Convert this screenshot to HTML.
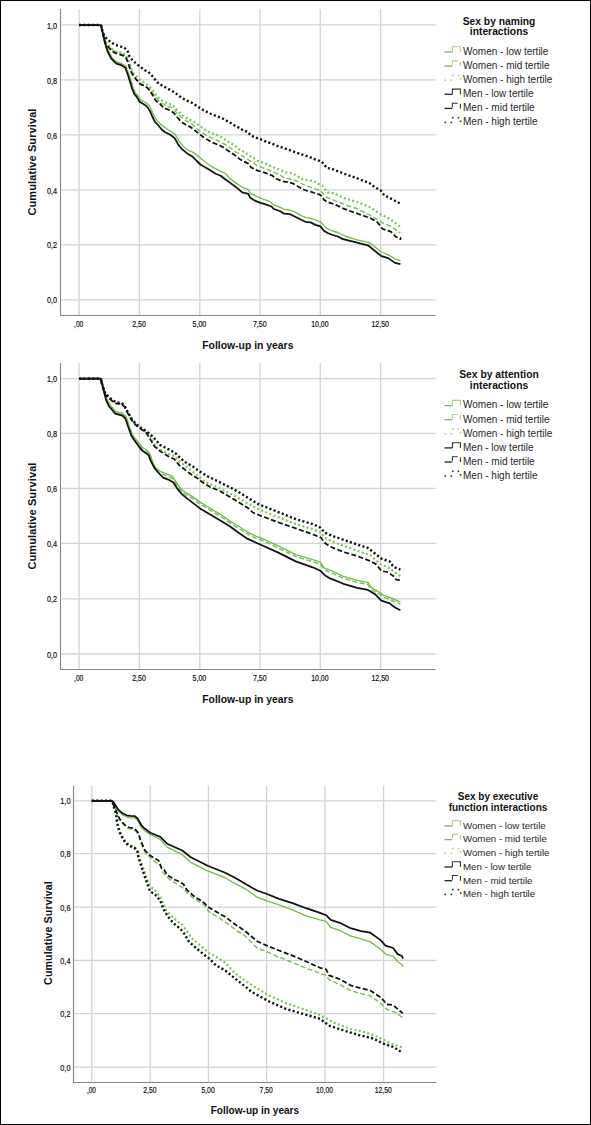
<!DOCTYPE html><html><head><meta charset="utf-8"><title>Survival curves</title><style>
html,body{margin:0;padding:0;background:#fff;}
body{width:591px;height:1125px;overflow:hidden;font-family:"Liberation Sans", sans-serif;}
svg{display:block;}
text{font-family:"Liberation Sans", sans-serif;}
</style></head><body>
<svg width="591" height="1125" viewBox="0 0 591 1125">
<rect x="0" y="0" width="591" height="1125" fill="#fff"/>
<line x1="60.5" y1="24.9" x2="435.5" y2="24.9" stroke="#d3d3d3" stroke-width="1.3"/>
<line x1="60.5" y1="79.9" x2="435.5" y2="79.9" stroke="#d3d3d3" stroke-width="1.3"/>
<line x1="60.5" y1="134.9" x2="435.5" y2="134.9" stroke="#d3d3d3" stroke-width="1.3"/>
<line x1="60.5" y1="189.9" x2="435.5" y2="189.9" stroke="#d3d3d3" stroke-width="1.3"/>
<line x1="60.5" y1="244.8" x2="435.5" y2="244.8" stroke="#d3d3d3" stroke-width="1.3"/>
<line x1="60.5" y1="299.8" x2="435.5" y2="299.8" stroke="#d3d3d3" stroke-width="1.3"/>
<line x1="79.1" y1="9" x2="79.1" y2="315.5" stroke="#d3d3d3" stroke-width="1.3"/>
<line x1="139.4" y1="9" x2="139.4" y2="315.5" stroke="#d3d3d3" stroke-width="1.3"/>
<line x1="199.8" y1="9" x2="199.8" y2="315.5" stroke="#d3d3d3" stroke-width="1.3"/>
<line x1="260.1" y1="9" x2="260.1" y2="315.5" stroke="#d3d3d3" stroke-width="1.3"/>
<line x1="320.3" y1="9" x2="320.3" y2="315.5" stroke="#d3d3d3" stroke-width="1.3"/>
<line x1="380.6" y1="9" x2="380.6" y2="315.5" stroke="#d3d3d3" stroke-width="1.3"/>
<path d="M60.5,9 V315.5 H435.5" fill="none" stroke="#858585" stroke-width="1.1"/>
<text x="47.0" y="28.5" font-size="8.4" fill="#111" stroke="#111" stroke-width="0.2" textLength="10.2" lengthAdjust="spacingAndGlyphs">1,0</text>
<text x="47.0" y="83.5" font-size="8.4" fill="#111" stroke="#111" stroke-width="0.2" textLength="10.2" lengthAdjust="spacingAndGlyphs">0,8</text>
<text x="47.0" y="138.5" font-size="8.4" fill="#111" stroke="#111" stroke-width="0.2" textLength="10.2" lengthAdjust="spacingAndGlyphs">0,6</text>
<text x="47.0" y="193.5" font-size="8.4" fill="#111" stroke="#111" stroke-width="0.2" textLength="10.2" lengthAdjust="spacingAndGlyphs">0,4</text>
<text x="47.0" y="248.4" font-size="8.4" fill="#111" stroke="#111" stroke-width="0.2" textLength="10.2" lengthAdjust="spacingAndGlyphs">0,2</text>
<text x="47.0" y="303.4" font-size="8.4" fill="#111" stroke="#111" stroke-width="0.2" textLength="10.2" lengthAdjust="spacingAndGlyphs">0,0</text>
<text x="74.1" y="326.7" font-size="8.4" fill="#111" stroke="#111" stroke-width="0.2" textLength="9.2" lengthAdjust="spacingAndGlyphs">,00</text>
<text x="132.2" y="326.7" font-size="8.4" fill="#111" stroke="#111" stroke-width="0.2" textLength="13.7" lengthAdjust="spacingAndGlyphs">2,50</text>
<text x="192.6" y="326.7" font-size="8.4" fill="#111" stroke="#111" stroke-width="0.2" textLength="13.7" lengthAdjust="spacingAndGlyphs">5,00</text>
<text x="252.9" y="326.7" font-size="8.4" fill="#111" stroke="#111" stroke-width="0.2" textLength="13.7" lengthAdjust="spacingAndGlyphs">7,50</text>
<text x="311.2" y="326.7" font-size="8.4" fill="#111" stroke="#111" stroke-width="0.2" textLength="17.4" lengthAdjust="spacingAndGlyphs">10,00</text>
<text x="371.4" y="326.7" font-size="8.4" fill="#111" stroke="#111" stroke-width="0.2" textLength="17.6" lengthAdjust="spacingAndGlyphs">12,50</text>
<text x="247.8" y="348.7" font-size="10.40" font-weight="bold" text-anchor="middle" fill="#111">Follow-up in years</text>
<text transform="translate(36.2,162.0) rotate(-90)" x="0" y="0" font-size="11.00" font-weight="bold" text-anchor="middle" fill="#111" letter-spacing="0.1">Cumulative Survival</text>
<polyline points="79.0,25.0 101.0,25.0 102.0,30.0 105.5,42.0 107.5,49.0 111.5,57.0 116.5,62.0 121.5,63.5 126.0,66.0 127.1,70.0 129.1,75.0 131.2,81.5 133.2,88.0 135.6,93.0 138.0,96.0 140.3,99.8 145.7,102.5 149.1,105.2 150.5,108.0 153.4,114.5 156.8,120.4 161.0,124.6 166.9,128.8 172.0,132.2 175.0,134.1 179.1,141.2 183.1,146.2 188.2,150.3 193.3,152.3 198.4,156.4 203.4,160.5 208.5,164.5 213.6,167.6 219.7,170.6 225.8,173.7 230.0,178.6 236.1,183.1 242.2,187.2 248.3,189.7 250.3,193.3 256.4,196.3 262.5,198.9 270.6,201.9 272.6,204.4 281.8,208.0 284.8,209.5 290.1,210.2 295.2,212.2 300.2,215.2 305.3,217.3 310.4,218.3 315.5,219.8 320.5,221.8 323.6,225.4 327.6,228.9 332.7,231.0 337.8,232.5 342.9,235.0 345.0,236.0 357.1,239.9 369.3,242.6 381.4,252.0 388.2,254.8 395.0,258.8 400.4,260.8" fill="none" stroke="#74bd4e" stroke-width="1.35" stroke-linejoin="round"/>
<polyline points="79.0,25.0 101.0,25.0 103.0,34.0 105.0,42.0 110.0,48.0 115.0,52.0 121.0,53.5 125.5,55.5 128.5,62.0 133.5,76.5 139.0,81.9 143.7,85.3 148.4,88.7 152.5,92.8 155.9,97.5 159.3,101.6 162.0,103.3 166.9,106.4 172.8,108.1 177.1,113.2 181.3,117.4 186.4,120.8 192.3,124.2 195.0,127.1 200.1,131.3 207.7,136.4 216.2,139.8 220.0,141.9 225.4,144.6 231.5,148.7 236.9,152.7 242.3,156.1 247.1,158.8 251.8,162.2 256.9,165.3 265.4,168.7 273.8,172.1 280.6,175.5 285.0,178.2 290.1,179.0 295.2,180.3 300.2,182.8 305.3,185.4 310.4,187.1 316.3,189.2 320.5,190.5 323.1,193.8 326.5,197.2 330.7,198.9 335.0,200.6 345.0,204.8 357.1,208.7 370.6,215.5 381.4,222.3 390.9,226.3 400.4,233.1" fill="none" stroke="#74bd4e" stroke-width="1.35" stroke-dasharray="5 2.4" stroke-linejoin="round"/>
<polyline points="79.0,25.0 101.0,25.0 103.0,33.0 105.2,41.3 110.2,47.4 115.3,51.5 121.4,52.5 125.5,54.5 128.5,60.6 133.5,73.5 139.0,78.9 143.7,82.3 148.4,85.7 152.5,89.8 155.9,94.5 159.3,98.6 162.0,100.3 166.9,103.4 172.8,105.1 177.1,110.2 181.3,114.4 186.4,117.8 192.3,121.2 195.8,122.8 199.2,125.4 203.5,128.8 207.7,131.3 211.9,133.4 216.2,134.7 220.0,136.5 223.4,138.5 226.8,140.9 230.8,143.3 234.6,145.3 237.9,148.4 241.7,150.7 245.7,152.7 249.1,155.5 253.2,157.8 256.9,160.5 265.4,163.6 273.8,167.4 282.3,170.8 286.7,172.7 291.8,173.1 296.0,175.2 300.2,177.8 303.6,179.9 309.5,180.3 314.6,181.6 318.0,183.7 322.2,185.4 324.8,189.2 328.1,192.6 333.2,193.0 343.5,197.9 357.1,202.0 370.6,207.4 380.1,214.1 390.9,219.6 400.4,227.0" fill="none" stroke="#7fc65c" stroke-width="2.2" stroke-dasharray="2.1 2.3" stroke-linejoin="round"/>
<polyline points="79.0,25.0 101.0,25.0 102.0,30.0 105.2,43.4 107.2,50.5 111.2,58.6 116.3,63.7 121.4,65.2 125.5,67.7 126.1,70.0 128.1,75.4 130.2,82.2 132.2,89.0 134.2,93.7 136.9,97.1 139.6,101.8 143.0,103.8 146.4,105.9 148.4,108.6 150.0,111.1 152.5,117.0 155.1,122.1 158.5,125.5 161.8,129.7 165.2,132.2 170.3,134.8 173.7,137.3 175.0,138.6 178.0,144.2 182.1,149.3 187.2,153.4 192.3,156.4 196.3,160.5 200.4,164.5 205.5,167.6 210.5,170.6 215.6,173.7 220.7,175.7 225.8,179.7 230.0,182.6 236.1,187.2 242.2,192.3 248.3,193.8 250.3,197.8 255.4,200.9 260.5,202.9 265.5,204.4 271.6,206.5 273.7,209.0 279.7,211.0 283.8,213.6 290.1,214.2 295.2,216.8 300.2,219.3 305.3,221.8 310.4,222.3 315.5,224.9 320.5,226.4 323.6,230.5 327.6,233.0 332.7,235.0 337.8,236.5 342.9,239.1 345.0,239.6 357.1,242.6 367.9,245.3 381.4,256.1 388.2,258.1 395.0,262.9 400.4,264.2" fill="none" stroke="#111" stroke-width="1.75" stroke-linejoin="round"/>
<polyline points="79.0,25.0 101.0,25.0 103.0,34.0 105.0,43.0 110.0,49.0 115.0,53.0 121.0,55.0 125.5,56.5 128.5,63.7 130.2,70.0 133.5,76.1 136.9,80.2 140.3,84.2 143.7,85.6 147.1,87.6 149.8,90.3 152.5,95.0 155.2,99.8 157.9,102.5 160.0,103.8 163.5,107.7 169.5,110.2 173.7,112.8 177.1,117.0 180.5,121.2 185.5,124.6 190.6,127.1 195.0,130.5 199.2,133.8 203.5,137.2 207.7,139.8 211.9,142.3 216.2,144.0 220.4,145.7 224.1,148.0 228.1,150.7 232.2,153.4 236.2,156.1 240.3,159.5 243.7,161.5 248.4,163.6 251.0,167.4 256.9,170.4 265.4,172.9 272.1,175.5 276.4,178.8 282.3,181.4 289.2,182.4 293.5,183.7 297.7,186.2 304.5,190.0 310.4,191.7 314.6,193.0 319.7,194.7 322.2,196.4 323.9,199.8 327.3,201.9 330.7,203.1 335.0,204.4 343.5,208.7 357.1,213.5 370.6,218.2 377.4,222.3 382.8,229.0 390.9,231.7 396.3,237.2 400.4,237.8 400.4,239.9" fill="none" stroke="#111" stroke-width="1.75" stroke-dasharray="5 2.4" stroke-linejoin="round"/>
<polyline points="79.0,25.0 101.0,25.0 102.1,30.2 104.6,36.2 107.2,39.3 111.2,42.3 115.3,44.9 120.4,46.4 124.4,47.9 127.5,50.5 129.5,56.5 132.6,60.6 137.6,64.7 144.4,70.0 148.4,72.0 151.8,75.4 154.5,78.8 157.2,82.2 162.0,85.5 168.0,88.8 174.0,92.0 179.6,96.3 185.5,100.1 192.3,103.0 195.0,104.7 199.2,107.6 203.5,110.2 206.8,111.8 211.1,114.0 215.3,115.7 219.5,117.3 223.8,119.0 228.0,121.6 232.2,123.7 234.9,125.7 239.6,128.0 243.0,130.4 247.7,131.8 250.5,135.2 254.5,137.2 259.3,138.9 278.8,146.4 295.8,152.3 312.7,158.2 316.3,160.0 321.4,161.3 323.9,164.2 326.9,168.0 331.5,168.5 335.0,170.2 343.5,173.5 357.1,178.3 369.3,183.0 374.7,187.1 380.8,190.5 384.1,195.2 392.3,199.3 401.1,204.0" fill="none" stroke="#111" stroke-width="2.4" stroke-dasharray="2.1 2.3" stroke-linejoin="round"/>
<text x="499" y="24.5" font-size="10.30" font-weight="bold" text-anchor="middle" fill="#111">Sex by naming</text>
<text x="499" y="35.2" font-size="10.30" font-weight="bold" text-anchor="middle" fill="#111">interactions</text>
<path d="M444.5,52.0 H452.4" fill="none" stroke="#7fb062" stroke-width="1.3"/>
<path d="M452.4,52.0 V46.8 H460.4 V52.0" fill="none" stroke="#a7cf94" stroke-width="1.1"/>
<text x="463" y="54.8" font-size="10.00" fill="#262626">Women - low tertile</text>
<path d="M444.5,66.10000000000001 H452.2" fill="none" stroke="#7fb062" stroke-width="1.3"/>
<path d="M452.4,65.10000000000001 V60.900000000000006 H457.8 M460.4,61.50000000000001 V66.10000000000001" fill="none" stroke="#a7cf94" stroke-width="1.1"/>
<text x="463" y="68.9" font-size="10.00" fill="#262626">Women - mid tertile</text>
<rect x="444.5" y="79.4" width="1.6" height="1.6" fill="#a7cf94"/>
<rect x="450.6" y="79.4" width="1.6" height="1.6" fill="#a7cf94"/>
<rect x="452.0" y="74.6" width="1.6" height="1.6" fill="#a7cf94"/>
<rect x="457.6" y="74.6" width="1.6" height="1.6" fill="#a7cf94"/>
<rect x="459.8" y="78.2" width="1.6" height="1.6" fill="#a7cf94"/>
<text x="463" y="83.0" font-size="10.00" fill="#262626">Women - high tertile</text>
<path d="M444.5,94.3 H452.4" fill="none" stroke="#222" stroke-width="1.3"/>
<path d="M452.4,94.3 V89.1 H460.4 V94.3" fill="none" stroke="#333" stroke-width="1.1"/>
<text x="463" y="97.1" font-size="10.00" fill="#262626">Men - low tertile</text>
<path d="M444.5,108.4 H452.2" fill="none" stroke="#222" stroke-width="1.3"/>
<path d="M452.4,107.4 V103.2 H457.8 M460.4,103.8 V108.4" fill="none" stroke="#333" stroke-width="1.1"/>
<text x="463" y="111.2" font-size="10.00" fill="#262626">Men - mid tertile</text>
<rect x="444.5" y="121.7" width="1.6" height="1.6" fill="#333"/>
<rect x="450.6" y="121.7" width="1.6" height="1.6" fill="#333"/>
<rect x="452.0" y="116.9" width="1.6" height="1.6" fill="#333"/>
<rect x="457.6" y="116.9" width="1.6" height="1.6" fill="#333"/>
<rect x="459.8" y="120.5" width="1.6" height="1.6" fill="#333"/>
<text x="463" y="125.3" font-size="10.00" fill="#262626">Men - high tertile</text>
<line x1="60.5" y1="378.7" x2="435.5" y2="378.7" stroke="#d3d3d3" stroke-width="1.3"/>
<line x1="60.5" y1="433.4" x2="435.5" y2="433.4" stroke="#d3d3d3" stroke-width="1.3"/>
<line x1="60.5" y1="488.4" x2="435.5" y2="488.4" stroke="#d3d3d3" stroke-width="1.3"/>
<line x1="60.5" y1="543.4" x2="435.5" y2="543.4" stroke="#d3d3d3" stroke-width="1.3"/>
<line x1="60.5" y1="598.8" x2="435.5" y2="598.8" stroke="#d3d3d3" stroke-width="1.3"/>
<line x1="60.5" y1="654.0" x2="435.5" y2="654.0" stroke="#d3d3d3" stroke-width="1.3"/>
<line x1="79.1" y1="363" x2="79.1" y2="669.5" stroke="#d3d3d3" stroke-width="1.3"/>
<line x1="139.4" y1="363" x2="139.4" y2="669.5" stroke="#d3d3d3" stroke-width="1.3"/>
<line x1="199.8" y1="363" x2="199.8" y2="669.5" stroke="#d3d3d3" stroke-width="1.3"/>
<line x1="260.1" y1="363" x2="260.1" y2="669.5" stroke="#d3d3d3" stroke-width="1.3"/>
<line x1="320.3" y1="363" x2="320.3" y2="669.5" stroke="#d3d3d3" stroke-width="1.3"/>
<line x1="380.6" y1="363" x2="380.6" y2="669.5" stroke="#d3d3d3" stroke-width="1.3"/>
<path d="M60.5,363 V669.5 H435.5" fill="none" stroke="#858585" stroke-width="1.1"/>
<text x="47.0" y="382.3" font-size="8.4" fill="#111" stroke="#111" stroke-width="0.2" textLength="10.2" lengthAdjust="spacingAndGlyphs">1,0</text>
<text x="47.0" y="437.0" font-size="8.4" fill="#111" stroke="#111" stroke-width="0.2" textLength="10.2" lengthAdjust="spacingAndGlyphs">0,8</text>
<text x="47.0" y="492.0" font-size="8.4" fill="#111" stroke="#111" stroke-width="0.2" textLength="10.2" lengthAdjust="spacingAndGlyphs">0,6</text>
<text x="47.0" y="547.0" font-size="8.4" fill="#111" stroke="#111" stroke-width="0.2" textLength="10.2" lengthAdjust="spacingAndGlyphs">0,4</text>
<text x="47.0" y="602.4" font-size="8.4" fill="#111" stroke="#111" stroke-width="0.2" textLength="10.2" lengthAdjust="spacingAndGlyphs">0,2</text>
<text x="47.0" y="657.6" font-size="8.4" fill="#111" stroke="#111" stroke-width="0.2" textLength="10.2" lengthAdjust="spacingAndGlyphs">0,0</text>
<text x="74.1" y="680.7" font-size="8.4" fill="#111" stroke="#111" stroke-width="0.2" textLength="9.2" lengthAdjust="spacingAndGlyphs">,00</text>
<text x="132.2" y="680.7" font-size="8.4" fill="#111" stroke="#111" stroke-width="0.2" textLength="13.7" lengthAdjust="spacingAndGlyphs">2,50</text>
<text x="192.6" y="680.7" font-size="8.4" fill="#111" stroke="#111" stroke-width="0.2" textLength="13.7" lengthAdjust="spacingAndGlyphs">5,00</text>
<text x="252.9" y="680.7" font-size="8.4" fill="#111" stroke="#111" stroke-width="0.2" textLength="13.7" lengthAdjust="spacingAndGlyphs">7,50</text>
<text x="311.2" y="680.7" font-size="8.4" fill="#111" stroke="#111" stroke-width="0.2" textLength="17.4" lengthAdjust="spacingAndGlyphs">10,00</text>
<text x="371.4" y="680.7" font-size="8.4" fill="#111" stroke="#111" stroke-width="0.2" textLength="17.6" lengthAdjust="spacingAndGlyphs">12,50</text>
<text x="247.8" y="702.7" font-size="10.40" font-weight="bold" text-anchor="middle" fill="#111">Follow-up in years</text>
<text transform="translate(36.2,516.0) rotate(-90)" x="0" y="0" font-size="11.00" font-weight="bold" text-anchor="middle" fill="#111" letter-spacing="0.1">Cumulative Survival</text>
<polyline points="79.0,378.7 101.0,378.7 102.0,383.0 104.5,391.0 106.7,398.5 109.7,404.5 115.8,411.5 122.9,413.5 126.0,416.5 129.0,425.5 132.0,433.5 136.0,439.5 142.0,447.0 148.0,451.0 150.0,454.0 153.0,463.0 156.1,468.2 160.2,471.3 165.2,473.3 172.3,476.3 176.4,482.4 180.5,488.5 185.5,492.6 192.6,496.6 200.0,502.1 210.2,508.2 220.3,514.3 230.5,521.4 240.6,527.5 248.7,532.6 256.9,536.6 260.2,537.6 278.8,546.1 295.8,554.6 312.7,559.7 320.3,562.2 324.5,568.1 330.0,570.2 343.5,576.3 357.1,580.4 367.9,582.4 370.6,587.2 377.4,591.2 384.1,595.3 390.9,598.0 400.4,602.0" fill="none" stroke="#74bd4e" stroke-width="1.35" stroke-linejoin="round"/>
<polyline points="79.0,378.7 101.0,378.7 102.0,385.0 104.5,393.0 106.7,400.5 109.7,406.5 115.8,413.5 122.9,415.5 126.0,418.5 129.0,427.5 132.0,435.5 136.0,441.5 142.0,449.0 148.0,453.0 150.0,456.0 153.0,465.0 156.1,470.2 160.2,473.3 165.2,475.3 172.3,478.3 176.4,484.4 180.5,490.5 185.5,494.6 192.6,498.6 200.0,504.1 210.2,510.2 220.3,516.3 230.5,523.4 240.6,529.5 248.7,534.6 256.9,538.6 260.2,539.6 278.8,548.1 295.8,556.6 312.7,561.7 320.3,564.2 324.5,570.1 330.0,572.2 343.5,578.3 357.1,582.4 367.9,584.4 370.6,589.2 377.4,593.2 384.1,597.3 390.9,600.0 400.4,604.0" fill="none" stroke="#74bd4e" stroke-width="1.35" stroke-dasharray="5 2.4" stroke-linejoin="round"/>
<polyline points="79.0,378.7 101.0,378.7 101.4,381.7 103.4,387.8 105.5,393.9 108.5,396.9 112.6,400.5 116.6,403.0 121.7,403.5 124.7,406.1 127.8,412.1 131.8,419.3 135.9,424.3 141.0,428.4 146.1,431.4 150.0,436.0 156.1,447.1 165.2,452.2 174.4,456.2 180.5,462.3 188.6,468.4 197.7,475.5 205.1,482.0 215.2,486.1 225.4,491.2 235.5,496.2 245.7,502.3 258.9,509.4 278.8,517.4 295.8,524.1 312.7,529.2 321.1,532.6 324.5,537.7 331.4,541.1 343.5,545.9 357.1,550.6 370.6,555.3 380.1,564.1 389.6,568.2 400.4,576.3" fill="none" stroke="#7fc65c" stroke-width="2.2" stroke-dasharray="2.1 2.3" stroke-linejoin="round"/>
<polyline points="79.0,378.7 101.0,378.7 102.0,383.0 104.1,392.3 106.2,400.4 109.2,406.5 115.3,413.6 122.4,415.6 125.5,418.7 128.5,427.8 131.5,435.9 135.6,442.0 141.7,450.1 148.8,455.2 150.0,459.3 154.1,467.4 158.1,472.5 163.2,477.6 168.3,479.6 173.4,482.6 177.4,488.7 181.5,493.8 187.6,498.9 200.0,508.4 210.2,514.5 220.3,520.6 230.5,526.7 238.6,532.8 247.7,538.9 260.2,544.5 278.8,552.9 295.8,561.4 312.7,567.3 320.3,570.7 324.5,574.9 330.0,578.4 343.5,583.8 357.1,587.8 367.9,589.9 374.7,593.9 381.4,600.7 389.6,603.4 395.0,607.5 400.4,610.2" fill="none" stroke="#111" stroke-width="1.75" stroke-linejoin="round"/>
<polyline points="79.0,378.7 101.0,378.7 101.1,382.3 103.1,388.4 105.2,394.5 108.2,397.5 112.3,401.1 116.3,403.6 121.4,404.1 124.4,406.7 127.5,412.7 131.5,419.9 135.6,424.9 140.7,429.0 145.8,432.0 150.0,438.6 154.1,446.1 160.2,451.2 168.3,456.2 174.4,459.3 179.4,465.4 188.6,472.5 197.7,478.6 202.0,482.0 210.2,487.1 220.3,491.2 230.5,497.3 240.6,503.4 248.7,508.4 252.8,512.5 260.2,515.5 278.8,522.5 295.8,528.4 312.7,534.3 321.1,537.7 324.5,542.8 330.0,546.5 343.5,552.0 357.1,556.0 367.9,560.1 376.0,564.1 381.4,570.9 388.2,572.3 393.6,576.3 396.3,579.7 400.4,580.4 400.4,582.0" fill="none" stroke="#111" stroke-width="1.75" stroke-dasharray="5 2.4" stroke-linejoin="round"/>
<polyline points="79.0,378.7 101.0,378.7 101.1,381.1 103.1,387.2 105.2,393.3 108.2,396.3 112.3,399.9 116.3,402.4 121.4,402.9 124.4,405.5 127.5,411.5 131.5,418.7 135.6,423.7 140.7,427.8 145.8,430.8 151.9,435.9 155.0,439.0 160.2,445.1 168.3,449.1 175.4,453.2 180.5,458.3 185.5,462.3 192.6,466.4 199.7,471.5 207.9,476.5 215.2,480.0 225.4,485.1 233.5,489.1 240.6,493.2 248.7,498.3 258.9,504.4 278.8,512.3 295.8,519.1 312.7,524.1 320.3,527.5 324.5,532.6 334.7,536.8 343.5,539.8 357.1,544.5 367.9,547.9 374.7,553.3 381.4,558.7 389.6,561.4 393.6,566.9 400.4,569.6" fill="none" stroke="#111" stroke-width="2.4" stroke-dasharray="2.1 2.3" stroke-linejoin="round"/>
<text x="499" y="377.8" font-size="10.30" font-weight="bold" text-anchor="middle" fill="#111">Sex by attention</text>
<text x="499" y="388.6" font-size="10.30" font-weight="bold" text-anchor="middle" fill="#111">interactions</text>
<path d="M444.5,405.59999999999997 H452.4" fill="none" stroke="#7fb062" stroke-width="1.3"/>
<path d="M452.4,405.59999999999997 V400.4 H460.4 V405.59999999999997" fill="none" stroke="#a7cf94" stroke-width="1.1"/>
<text x="463" y="408.4" font-size="10.00" fill="#262626">Women - low tertile</text>
<path d="M444.5,419.7 H452.2" fill="none" stroke="#7fb062" stroke-width="1.3"/>
<path d="M452.4,418.7 V414.5 H457.8 M460.4,415.1 V419.7" fill="none" stroke="#a7cf94" stroke-width="1.1"/>
<text x="463" y="422.5" font-size="10.00" fill="#262626">Women - mid tertile</text>
<rect x="444.5" y="433.0" width="1.6" height="1.6" fill="#a7cf94"/>
<rect x="450.6" y="433.0" width="1.6" height="1.6" fill="#a7cf94"/>
<rect x="452.0" y="428.2" width="1.6" height="1.6" fill="#a7cf94"/>
<rect x="457.6" y="428.2" width="1.6" height="1.6" fill="#a7cf94"/>
<rect x="459.8" y="431.8" width="1.6" height="1.6" fill="#a7cf94"/>
<text x="463" y="436.6" font-size="10.00" fill="#262626">Women - high tertile</text>
<path d="M444.5,447.9 H452.4" fill="none" stroke="#222" stroke-width="1.3"/>
<path d="M452.4,447.9 V442.7 H460.4 V447.9" fill="none" stroke="#333" stroke-width="1.1"/>
<text x="463" y="450.7" font-size="10.00" fill="#262626">Men - low tertile</text>
<path d="M444.5,462.0 H452.2" fill="none" stroke="#222" stroke-width="1.3"/>
<path d="M452.4,461.0 V456.8 H457.8 M460.4,457.40000000000003 V462.0" fill="none" stroke="#333" stroke-width="1.1"/>
<text x="463" y="464.8" font-size="10.00" fill="#262626">Men - mid tertile</text>
<rect x="444.5" y="475.3" width="1.6" height="1.6" fill="#333"/>
<rect x="450.6" y="475.3" width="1.6" height="1.6" fill="#333"/>
<rect x="452.0" y="470.5" width="1.6" height="1.6" fill="#333"/>
<rect x="457.6" y="470.5" width="1.6" height="1.6" fill="#333"/>
<rect x="459.8" y="474.1" width="1.6" height="1.6" fill="#333"/>
<text x="463" y="478.9" font-size="10.00" fill="#262626">Men - high tertile</text>
<line x1="73.5" y1="800.8" x2="436.5" y2="800.8" stroke="#d3d3d3" stroke-width="1.3"/>
<line x1="73.5" y1="853.6" x2="436.5" y2="853.6" stroke="#d3d3d3" stroke-width="1.3"/>
<line x1="73.5" y1="907.1" x2="436.5" y2="907.1" stroke="#d3d3d3" stroke-width="1.3"/>
<line x1="73.5" y1="960.4" x2="436.5" y2="960.4" stroke="#d3d3d3" stroke-width="1.3"/>
<line x1="73.5" y1="1013.6" x2="436.5" y2="1013.6" stroke="#d3d3d3" stroke-width="1.3"/>
<line x1="73.5" y1="1067.2" x2="436.5" y2="1067.2" stroke="#d3d3d3" stroke-width="1.3"/>
<line x1="91.8" y1="785.6" x2="91.8" y2="1082.5" stroke="#d3d3d3" stroke-width="1.3"/>
<line x1="150.2" y1="785.6" x2="150.2" y2="1082.5" stroke="#d3d3d3" stroke-width="1.3"/>
<line x1="208.4" y1="785.6" x2="208.4" y2="1082.5" stroke="#d3d3d3" stroke-width="1.3"/>
<line x1="266.6" y1="785.6" x2="266.6" y2="1082.5" stroke="#d3d3d3" stroke-width="1.3"/>
<line x1="324.9" y1="785.6" x2="324.9" y2="1082.5" stroke="#d3d3d3" stroke-width="1.3"/>
<line x1="383.6" y1="785.6" x2="383.6" y2="1082.5" stroke="#d3d3d3" stroke-width="1.3"/>
<path d="M73.5,785.6 V1082.5 H436.5" fill="none" stroke="#858585" stroke-width="1.1"/>
<text x="60.3" y="804.4" font-size="8.4" fill="#111" stroke="#111" stroke-width="0.2" textLength="10.2" lengthAdjust="spacingAndGlyphs">1,0</text>
<text x="60.3" y="857.2" font-size="8.4" fill="#111" stroke="#111" stroke-width="0.2" textLength="10.2" lengthAdjust="spacingAndGlyphs">0,8</text>
<text x="60.3" y="910.7" font-size="8.4" fill="#111" stroke="#111" stroke-width="0.2" textLength="10.2" lengthAdjust="spacingAndGlyphs">0,6</text>
<text x="60.3" y="964.0" font-size="8.4" fill="#111" stroke="#111" stroke-width="0.2" textLength="10.2" lengthAdjust="spacingAndGlyphs">0,4</text>
<text x="60.3" y="1017.2" font-size="8.4" fill="#111" stroke="#111" stroke-width="0.2" textLength="10.2" lengthAdjust="spacingAndGlyphs">0,2</text>
<text x="60.3" y="1070.8" font-size="8.4" fill="#111" stroke="#111" stroke-width="0.2" textLength="10.2" lengthAdjust="spacingAndGlyphs">0,0</text>
<text x="86.9" y="1093.0" font-size="8.4" fill="#111" stroke="#111" stroke-width="0.2" textLength="8.9" lengthAdjust="spacingAndGlyphs">,00</text>
<text x="143.2" y="1093.0" font-size="8.4" fill="#111" stroke="#111" stroke-width="0.2" textLength="13.3" lengthAdjust="spacingAndGlyphs">2,50</text>
<text x="201.4" y="1093.0" font-size="8.4" fill="#111" stroke="#111" stroke-width="0.2" textLength="13.3" lengthAdjust="spacingAndGlyphs">5,00</text>
<text x="259.6" y="1093.0" font-size="8.4" fill="#111" stroke="#111" stroke-width="0.2" textLength="13.3" lengthAdjust="spacingAndGlyphs">7,50</text>
<text x="316.1" y="1093.0" font-size="8.4" fill="#111" stroke="#111" stroke-width="0.2" textLength="16.9" lengthAdjust="spacingAndGlyphs">10,00</text>
<text x="374.7" y="1093.0" font-size="8.4" fill="#111" stroke="#111" stroke-width="0.2" textLength="17.1" lengthAdjust="spacingAndGlyphs">12,50</text>
<text x="254.9" y="1114.0" font-size="10.09" font-weight="bold" text-anchor="middle" fill="#111">Follow-up in years</text>
<text transform="translate(52.3,933.0) rotate(-90)" x="0" y="0" font-size="10.67" font-weight="bold" text-anchor="middle" fill="#111" letter-spacing="0.1">Cumulative Survival</text>
<polyline points="91.8,800.8 112.1,800.8 113.8,803.2 115.8,807.0 118.5,811.3 122.6,814.8 126.7,817.0 130.5,817.6 134.8,818.0 137.5,820.2 139.0,823.0 141.5,827.5 145.0,831.0 150.2,834.4 160.3,839.5 167.1,847.1 182.3,854.7 190.8,862.3 207.7,870.8 224.6,877.5 235.0,883.7 245.2,888.8 257.0,897.2 266.3,900.6 279.0,904.8 292.5,909.9 306.1,915.8 320.0,919.8 326.1,921.3 330.7,927.4 339.8,930.5 350.5,935.8 361.1,938.8 370.3,941.9 380.9,949.5 385.5,954.1 393.1,956.3 397.7,961.7 402.2,964.7 403.0,967.0" fill="none" stroke="#74bd4e" stroke-width="1.35" stroke-linejoin="round"/>
<polyline points="91.8,800.8 112.1,800.8 113.5,804.5 115.6,809.5 117.6,815.2 120.3,820.6 123.0,824.0 126.4,827.5 129.8,829.0 133.8,829.8 136.5,831.8 138.6,834.8 140.8,843.0 145.3,853.0 150.2,857.6 160.3,865.7 163.2,873.0 170.3,880.2 177.4,884.2 183.5,888.3 187.6,893.4 192.6,897.4 198.7,901.5 204.8,905.5 208.9,911.6 224.6,921.5 235.0,929.4 245.2,936.1 257.0,948.0 266.3,951.4 279.0,957.3 292.5,962.4 306.1,968.3 320.0,973.1 326.1,975.4 329.1,979.9 339.8,984.5 350.5,990.6 361.1,993.6 370.3,995.9 380.9,1003.5 387.0,1009.6 396.1,1012.7 403.0,1018.0" fill="none" stroke="#74bd4e" stroke-width="1.35" stroke-dasharray="5 2.4" stroke-linejoin="round"/>
<polyline points="91.8,800.8 112.1,800.8 114.5,807.0 116.6,815.0 117.6,823.0 119.6,831.0 122.7,837.0 125.7,842.0 129.8,845.0 134.8,847.0 138.0,851.0 139.0,857.0 141.0,861.0 145.5,875.0 150.0,886.2 156.1,891.3 161.2,898.4 165.2,908.6 170.3,914.7 176.4,920.8 182.5,924.8 186.5,930.9 192.6,939.0 198.7,944.1 204.8,949.2 208.9,953.2 211.1,953.7 224.6,962.1 235.0,973.4 251.9,985.2 268.8,995.4 285.8,1003.0 302.7,1008.9 320.0,1015.0 335.2,1023.3 350.5,1028.7 365.7,1032.5 377.9,1037.0 385.5,1040.9 394.6,1044.7 403.0,1047.7" fill="none" stroke="#7fc65c" stroke-width="2.2" stroke-dasharray="2.1 2.3" stroke-linejoin="round"/>
<polyline points="91.8,800.8 112.1,800.8 113.8,802.4 115.8,805.8 118.5,809.9 122.6,813.3 126.7,815.3 130.5,815.8 134.8,816.2 137.5,818.2 139.0,821.0 141.5,825.5 145.0,828.8 150.2,832.7 160.3,836.9 167.1,843.7 182.3,850.5 190.8,857.2 207.7,865.7 224.6,872.5 235.0,877.8 245.2,883.7 257.0,890.5 266.3,893.8 279.0,898.9 292.5,903.1 306.1,908.2 320.0,912.9 326.1,915.2 330.7,919.8 339.8,922.8 350.5,928.2 361.1,931.2 370.3,932.7 380.9,940.4 385.5,945.7 393.1,948.0 397.7,954.1 402.2,956.3 403.0,958.6" fill="none" stroke="#111" stroke-width="1.75" stroke-linejoin="round"/>
<polyline points="91.8,800.8 112.1,800.8 113.1,803.8 115.2,808.5 117.2,814.0 119.9,819.4 122.6,822.7 126.0,826.1 129.4,827.5 133.4,828.2 136.1,830.2 138.2,832.9 139.0,835.0 140.5,840.3 145.1,850.5 150.2,855.5 158.6,860.6 162.0,869.1 164.2,870.0 167.3,875.1 173.4,879.1 178.4,881.2 183.5,884.2 186.5,889.3 190.6,893.4 195.7,897.4 200.8,900.5 204.8,903.5 208.9,907.6 224.6,916.4 235.0,924.3 245.2,931.1 257.0,941.2 266.3,945.4 279.0,950.5 292.5,955.6 306.1,961.5 320.0,967.8 326.1,969.3 329.1,975.4 339.8,979.2 350.5,985.3 361.1,988.3 370.3,990.6 380.9,997.5 387.0,1004.3 393.1,1005.1 399.2,1010.4 403.0,1013.4" fill="none" stroke="#111" stroke-width="1.75" stroke-dasharray="5 2.4" stroke-linejoin="round"/>
<polyline points="91.8,800.8 112.1,800.8 114.1,807.2 116.2,815.3 117.2,823.4 119.2,831.5 122.3,837.6 125.3,842.7 129.4,845.8 134.4,847.8 137.5,851.9 138.5,857.9 140.0,862.3 145.1,877.5 150.0,891.3 155.1,894.4 160.2,900.5 163.2,908.6 166.2,913.7 170.3,919.7 175.4,924.8 180.5,928.9 184.5,934.0 188.6,941.1 193.7,946.1 198.7,950.2 204.8,955.3 208.9,958.3 216.1,965.5 224.6,970.0 235.0,978.4 251.9,992.0 268.8,1001.3 285.8,1008.9 320.0,1018.8 329.1,1025.6 342.8,1030.2 358.1,1034.8 373.3,1038.6 384.0,1043.9 393.1,1046.9 400.7,1051.5" fill="none" stroke="#111" stroke-width="2.4" stroke-dasharray="2.1 2.3" stroke-linejoin="round"/>
<text x="498" y="800.4" font-size="9.99" font-weight="bold" text-anchor="middle" fill="#111">Sex by executive</text>
<text x="498" y="810.5" font-size="9.99" font-weight="bold" text-anchor="middle" fill="#111">function interactions</text>
<path d="M444.5,825.9000000000001 H452.4" fill="none" stroke="#7fb062" stroke-width="1.3"/>
<path d="M452.4,825.9000000000001 V820.7 H460.4 V825.9000000000001" fill="none" stroke="#a7cf94" stroke-width="1.1"/>
<text x="463" y="828.7" font-size="9.70" fill="#262626">Women - low tertile</text>
<path d="M444.5,839.6 H452.2" fill="none" stroke="#7fb062" stroke-width="1.3"/>
<path d="M452.4,838.6 V834.4 H457.8 M460.4,835.0 V839.6" fill="none" stroke="#a7cf94" stroke-width="1.1"/>
<text x="463" y="842.4" font-size="9.70" fill="#262626">Women - mid tertile</text>
<rect x="444.5" y="852.5" width="1.6" height="1.6" fill="#a7cf94"/>
<rect x="450.6" y="852.5" width="1.6" height="1.6" fill="#a7cf94"/>
<rect x="452.0" y="847.7" width="1.6" height="1.6" fill="#a7cf94"/>
<rect x="457.6" y="847.7" width="1.6" height="1.6" fill="#a7cf94"/>
<rect x="459.8" y="851.3" width="1.6" height="1.6" fill="#a7cf94"/>
<text x="463" y="856.1" font-size="9.70" fill="#262626">Women - high tertile</text>
<path d="M444.5,867.0 H452.4" fill="none" stroke="#222" stroke-width="1.3"/>
<path d="M452.4,867.0 V861.8 H460.4 V867.0" fill="none" stroke="#333" stroke-width="1.1"/>
<text x="463" y="869.8" font-size="9.70" fill="#262626">Men - low tertile</text>
<path d="M444.5,880.7 H452.2" fill="none" stroke="#222" stroke-width="1.3"/>
<path d="M452.4,879.7 V875.5 H457.8 M460.4,876.1 V880.7" fill="none" stroke="#333" stroke-width="1.1"/>
<text x="463" y="883.5" font-size="9.70" fill="#262626">Men - mid tertile</text>
<rect x="444.5" y="893.6" width="1.6" height="1.6" fill="#333"/>
<rect x="450.6" y="893.6" width="1.6" height="1.6" fill="#333"/>
<rect x="452.0" y="888.8" width="1.6" height="1.6" fill="#333"/>
<rect x="457.6" y="888.8" width="1.6" height="1.6" fill="#333"/>
<rect x="459.8" y="892.4" width="1.6" height="1.6" fill="#333"/>
<text x="463" y="897.2" font-size="9.70" fill="#262626">Men - high tertile</text>
<rect x="0.5" y="0.5" width="590" height="1124" fill="none" stroke="#000" stroke-width="1"/>
</svg></body></html>
